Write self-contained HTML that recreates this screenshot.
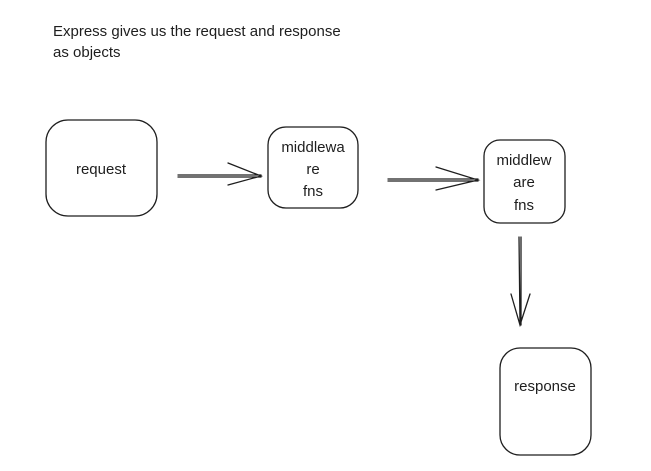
<!DOCTYPE html>
<html><head><style>
body{margin:0;background:#fff;width:651px;height:466px;overflow:hidden}
svg text{font-family:"Comic Sans MS","Liberation Sans",sans-serif;fill:#1e1e1e}
</style></head><body>
<svg width="651" height="466" viewBox="0 0 651 466">
<g fill="none" stroke="#1e1e1e" stroke-width="1.3" stroke-linecap="round">
<rect x="46" y="120" width="111" height="96" rx="22"/>
<rect x="268" y="127" width="90" height="81" rx="18"/>
<rect x="484" y="140" width="81" height="83" rx="16"/>
<rect x="500" y="348" width="91" height="107" rx="20"/>
<path d="M178 175 L261 175 M178 177 L261 177 M228 163 L261 176 L228 185"/>
<path d="M388 179 L478 179 M388 181 L478 181 M436 167 L478 180 L436 190"/>
<path d="M519 237 L520 325 M521 237 L521 325 M511 294 L520 325 L530 294"/>
</g>
<g font-size="15">
<text x="53" y="36">Express gives us the request and response</text>
<text x="53" y="57">as objects</text>
<text x="101" y="174" text-anchor="middle">request</text>
<text x="313" y="152" text-anchor="middle">middlewa</text>
<text x="313" y="174" text-anchor="middle">re</text>
<text x="313" y="196" text-anchor="middle">fns</text>
<text x="524" y="165" text-anchor="middle">middlew</text>
<text x="524" y="187" text-anchor="middle">are</text>
<text x="524" y="210" text-anchor="middle">fns</text>
<text x="545" y="391" text-anchor="middle">response</text>
</g>
</svg>
</body></html>
